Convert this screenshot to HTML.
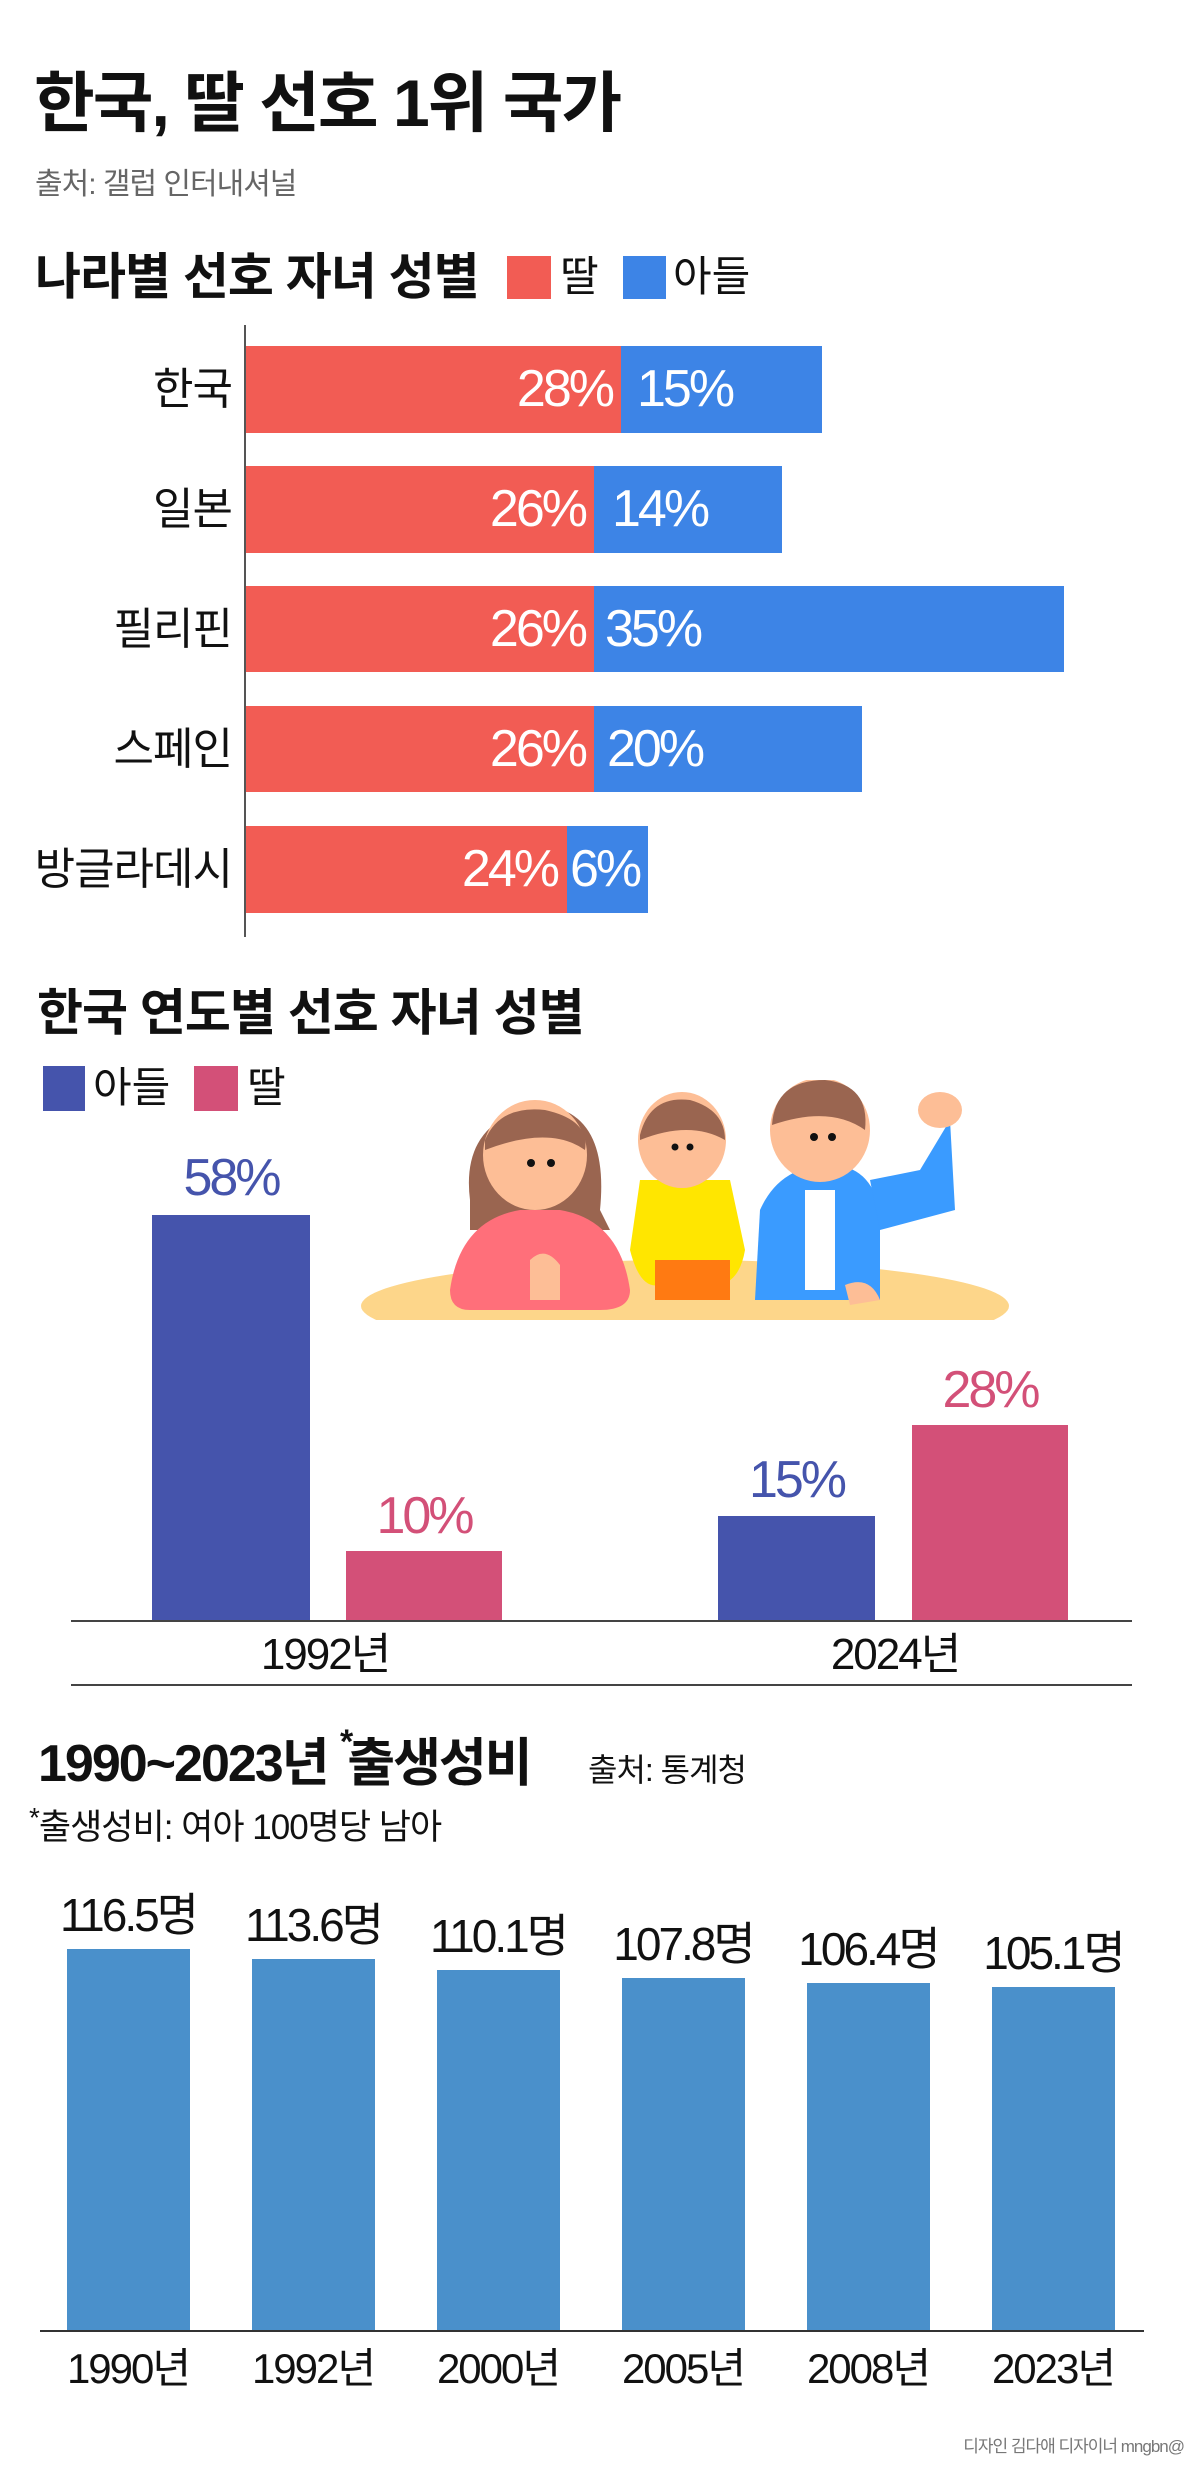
<!DOCTYPE html>
<html><head><meta charset="utf-8"><style>
*{margin:0;padding:0;box-sizing:border-box}
body{width:1200px;height:2475px;background:#fff;position:relative;overflow:hidden;font-family:"Liberation Sans","Noto Sans CJK KR",sans-serif;color:#111}
.a{position:absolute;line-height:1;white-space:nowrap}
.b{font-weight:bold}
.r{background:#F25C54;position:absolute}
.u{background:#3D84E6;position:absolute}
.v{position:absolute;color:#fff;font-size:52px;line-height:87px;letter-spacing:-3px}
.cat{position:absolute;right:968px;font-size:44px;line-height:87px;text-align:right;letter-spacing:-1px}
</style></head><body>
<div class="a b" style="left:34px;top:70px;font-size:66px;letter-spacing:-2px">한국, 딸 선호 1위 국가</div>
<div class="a" style="left:35px;top:170px;font-size:30px;color:#666;letter-spacing:-1px">출처: 갤럽 인터내셔널</div>

<div class="a b" style="left:35px;top:252px;font-size:50px;letter-spacing:-1px">나라별 선호 자녀 성별</div>
<div style="position:absolute;left:507px;top:256px;width:44px;height:43px;background:#F25C54"></div>
<div class="a" style="left:560px;top:256px;font-size:42px">딸</div>
<div style="position:absolute;left:623px;top:256px;width:43px;height:43px;background:#3D84E6"></div>
<div class="a" style="left:673px;top:256px;font-size:42px">아들</div>
<div style="position:absolute;left:244px;top:325px;width:2px;height:612px;background:#555"></div>

<div class="cat" style="top:346px">한국</div>
<div class="r" style="left:246px;top:346px;width:375px;height:87px"></div>
<div class="u" style="left:621px;top:346px;width:201px;height:87px"></div>
<div class="v" style="right:588px;top:346px">28%</div>
<div class="v" style="left:637px;top:346px">15%</div>

<div class="cat" style="top:466px">일본</div>
<div class="r" style="left:246px;top:466px;width:348px;height:87px"></div>
<div class="u" style="left:594px;top:466px;width:188px;height:87px"></div>
<div class="v" style="right:615px;top:466px">26%</div>
<div class="v" style="left:612px;top:466px">14%</div>

<div class="cat" style="top:586px">필리핀</div>
<div class="r" style="left:246px;top:586px;width:348px;height:86px"></div>
<div class="u" style="left:594px;top:586px;width:470px;height:86px"></div>
<div class="v" style="right:615px;top:586px">26%</div>
<div class="v" style="left:605px;top:586px">35%</div>

<div class="cat" style="top:706px">스페인</div>
<div class="r" style="left:246px;top:706px;width:348px;height:86px"></div>
<div class="u" style="left:594px;top:706px;width:268px;height:86px"></div>
<div class="v" style="right:615px;top:706px">26%</div>
<div class="v" style="left:607px;top:706px">20%</div>

<div class="cat" style="top:826px">방글라데시</div>
<div class="r" style="left:246px;top:826px;width:321px;height:87px"></div>
<div class="u" style="left:567px;top:826px;width:81px;height:87px"></div>
<div class="v" style="right:643px;top:826px">24%</div>
<div class="v" style="left:570px;top:826px">6%</div>

<div class="a b" style="left:37px;top:988px;font-size:50px;letter-spacing:-1px">한국 연도별 선호 자녀 성별</div>
<div style="position:absolute;left:43px;top:1066px;width:42px;height:45px;background:#4554AC"></div>
<div class="a" style="left:93px;top:1067px;font-size:42px">아들</div>
<div style="position:absolute;left:194px;top:1066px;width:44px;height:45px;background:#D35078"></div>
<div class="a" style="left:247px;top:1067px;font-size:42px">딸</div>

<svg style="position:absolute;left:0;top:1080px" width="1200" height="240">
<ellipse cx="685" cy="226" rx="324" ry="46" fill="#FDD68A"/>
<path d="M470 120 Q460 40 540 25 Q610 30 600 130 L610 150 L470 150Z" fill="#9A6550"/>
<path d="M450 210 Q460 140 520 130 L560 130 Q620 140 630 210 Q630 230 600 230 L470 230 Q450 230 450 210Z" fill="#FF6F7A"/>
<ellipse cx="535" cy="75" rx="52" ry="55" fill="#FDBE96"/>
<path d="M485 60 Q500 25 545 30 Q590 40 585 70 Q550 45 485 70Z" fill="#9A6550"/>
<circle cx="531" cy="83" r="4" fill="#111"/><circle cx="551" cy="83" r="4" fill="#111"/>
<path d="M530 180 Q545 165 560 185 L560 220 L530 220Z" fill="#FDBE96"/>
<path d="M640 100 L630 170 Q640 210 660 205 L720 205 Q740 200 745 170 L730 100Z" fill="#FFE600"/>
<rect x="655" y="180" width="75" height="40" fill="#FF7A12"/>
<ellipse cx="682" cy="60" rx="44" ry="48" fill="#FDBE96"/>
<path d="M640 55 Q650 15 690 20 Q725 30 725 60 Q690 40 640 60Z" fill="#9A6550"/>
<circle cx="675" cy="67" r="3.5" fill="#111"/><circle cx="690" cy="67" r="3.5" fill="#111"/>
<path d="M760 130 Q780 85 830 85 Q870 85 880 130 L880 220 L755 220Z" fill="#3A9BFF"/>
<rect x="805" y="110" width="30" height="100" fill="#fff"/>
<path d="M870 100 L920 90 L950 40 L955 130 L880 150Z" fill="#3A9BFF"/>
<ellipse cx="940" cy="30" rx="22" ry="18" fill="#FDBE96"/>
<ellipse cx="820" cy="50" rx="50" ry="52" fill="#FDBE96"/>
<path d="M772 45 Q775 0 825 0 Q870 5 865 50 Q830 25 772 45Z" fill="#9A6550"/>
<circle cx="814" cy="57" r="4" fill="#111"/><circle cx="832" cy="57" r="4" fill="#111"/>
<path d="M845 205 Q870 195 880 220 L850 225Z" fill="#FDBE96"/>
</svg>

<div style="position:absolute;left:152px;top:1215px;width:158px;height:406px;background:#4554AC"></div>
<div style="position:absolute;left:346px;top:1551px;width:156px;height:70px;background:#D35078"></div>
<div style="position:absolute;left:718px;top:1516px;width:157px;height:105px;background:#4554AC"></div>
<div style="position:absolute;left:912px;top:1425px;width:156px;height:196px;background:#D35078"></div>
<div class="a" style="left:152px;width:158px;text-align:center;top:1152px;font-size:52px;color:#4554AC;letter-spacing:-3px">58%</div>
<div class="a" style="left:346px;width:156px;text-align:center;top:1490px;font-size:52px;color:#D35078;letter-spacing:-3px">10%</div>
<div class="a" style="left:718px;width:157px;text-align:center;top:1454px;font-size:52px;color:#4554AC;letter-spacing:-3px">15%</div>
<div class="a" style="left:912px;width:156px;text-align:center;top:1364px;font-size:52px;color:#D35078;letter-spacing:-3px">28%</div>
<div style="position:absolute;left:71px;top:1620px;width:1061px;height:2px;background:#444"></div>
<div style="position:absolute;left:71px;top:1684px;width:1061px;height:2px;background:#444"></div>
<div class="a" style="left:225px;width:200px;text-align:center;top:1633px;font-size:44px;letter-spacing:-2px">1992년</div>
<div class="a" style="left:795px;width:200px;text-align:center;top:1633px;font-size:44px;letter-spacing:-2px">2024년</div>

<div class="a b" style="left:38px;top:1738px;font-size:52px;letter-spacing:-2px">1990~2023년 <span style="position:relative;top:-28px;font-size:34px;margin-right:-4px">*</span>출생성비</div>
<div class="a" style="left:588px;top:1754px;font-size:32px;letter-spacing:-1px">출처: 통계청</div>
<div class="a" style="left:29px;top:1810px;font-size:35px;letter-spacing:-1px"><span style="position:relative;top:-12px;font-size:28px">*</span>출생성비: 여아 100명당 남아</div>

<div style="position:absolute;left:67px;top:1949px;width:123px;height:382px;background:#4A90CB"></div>
<div style="position:absolute;left:252px;top:1959px;width:123px;height:372px;background:#4A90CB"></div>
<div style="position:absolute;left:437px;top:1970px;width:123px;height:361px;background:#4A90CB"></div>
<div style="position:absolute;left:622px;top:1978px;width:123px;height:353px;background:#4A90CB"></div>
<div style="position:absolute;left:807px;top:1983px;width:123px;height:348px;background:#4A90CB"></div>
<div style="position:absolute;left:992px;top:1987px;width:123px;height:344px;background:#4A90CB"></div>
<div style="position:absolute;left:40px;top:2330px;width:1104px;height:2px;background:#333"></div>

<div class="a" style="left:28px;width:200px;text-align:center;top:1892px;font-size:46px;letter-spacing:-3px">116.5명</div>
<div class="a" style="left:213px;width:200px;text-align:center;top:1902px;font-size:46px;letter-spacing:-3px">113.6명</div>
<div class="a" style="left:398px;width:200px;text-align:center;top:1913px;font-size:46px;letter-spacing:-3px">110.1명</div>
<div class="a" style="left:583px;width:200px;text-align:center;top:1921px;font-size:46px;letter-spacing:-3px">107.8명</div>
<div class="a" style="left:768px;width:200px;text-align:center;top:1926px;font-size:46px;letter-spacing:-3px">106.4명</div>
<div class="a" style="left:953px;width:200px;text-align:center;top:1930px;font-size:46px;letter-spacing:-3px">105.1명</div>

<div class="a" style="left:28px;width:200px;text-align:center;top:2348px;font-size:42px;letter-spacing:-2px">1990년</div>
<div class="a" style="left:213px;width:200px;text-align:center;top:2348px;font-size:42px;letter-spacing:-2px">1992년</div>
<div class="a" style="left:398px;width:200px;text-align:center;top:2348px;font-size:42px;letter-spacing:-2px">2000년</div>
<div class="a" style="left:583px;width:200px;text-align:center;top:2348px;font-size:42px;letter-spacing:-2px">2005년</div>
<div class="a" style="left:768px;width:200px;text-align:center;top:2348px;font-size:42px;letter-spacing:-2px">2008년</div>
<div class="a" style="left:953px;width:200px;text-align:center;top:2348px;font-size:42px;letter-spacing:-2px">2023년</div>

<div class="a" style="right:16px;top:2438px;font-size:17px;color:#777;letter-spacing:-1px">디자인 김다애 디자이너 mngbn@</div>
</body></html>
